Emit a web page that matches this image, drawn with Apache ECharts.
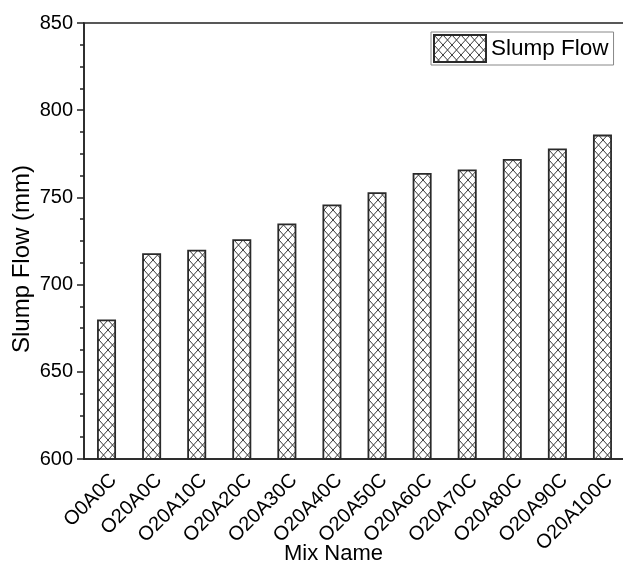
<!DOCTYPE html>
<html>
<head>
<meta charset="utf-8">
<script src="https://cdn.jsdelivr.net/npm/echarts@6/dist/echarts.min.js"></script>
<style>html,body{margin:0;padding:0;background:#fff}#c{width:623px;height:572px}</style>
</head>
<body>
<div id="c"></div>
<script>
var categories = ['O0A0C','O20A0C','O20A10C','O20A20C','O20A30C','O20A40C','O20A50C','O20A60C','O20A70C','O20A80C','O20A90C','O20A100C'];
var slumpFlow = [680, 718, 720, 726, 735, 746, 753, 764, 766, 772, 778, 786];
var yTicks = {min: 600, max: 850, interval: 50};

function makePattern() {
  var w = 9, h = 10;
  var cv = document.createElement('canvas');
  cv.width = w; cv.height = h;
  var ctx = cv.getContext('2d');
  ctx.fillStyle = '#fff';
  ctx.fillRect(0, 0, w, h);
  ctx.strokeStyle = '#3a3a3a';
  ctx.lineWidth = 1;
  ctx.beginPath();
  for (var k = -1; k <= 1; k++) {
    ctx.moveTo(k * w, 0); ctx.lineTo(k * w + w, h);
    ctx.moveTo(k * w + w, 0); ctx.lineTo(k * w, h);
  }
  ctx.stroke();
  return cv;
}
var pattern = {image: makePattern(), repeat: 'repeat'};

var chart = echarts.init(document.getElementById('c'));
var axisColor = '#222';
var font = 'Liberation Sans, Arial, sans-serif';
chart.setOption({
  animation: false,
  textStyle: {fontFamily: font},
  grid: {left: 84, top: 23, width: 541, height: 436, containLabel: false, outerBoundsMode: 'none',
    show: true, borderColor: axisColor, borderWidth: 1.5, backgroundColor: 'transparent'},
  legend: {
    left: 431, top: 32, padding: [2, 5, 2, 2],
    borderColor: '#888', borderWidth: 1,
    icon: 'rect',
    itemWidth: 52, itemHeight: 27, itemGap: 5,
    textStyle: {fontSize: 22.5, color: '#000', fontFamily: font},
    data: ['Slump Flow']
  },
  xAxis: [{
    type: 'category', data: categories, position: 'bottom',
    name: 'Mix Name', nameLocation: 'middle', nameGap: 84, nameMoveOverlap: false,
    nameTextStyle: {fontSize: 22, color: '#000', padding: [0, 42, 0, 0]},
    axisLine: {lineStyle: {color: axisColor, width: 1.5}},
    axisTick: {alignWithLabel: true, length: 7, lineStyle: {color: axisColor, width: 1.5}},
    axisLabel: {rotate: 45, fontSize: 20, color: '#000', margin: 11, interval: 0, verticalAlign: 'top', align: 'right'}
  }, {
    type: 'category', data: categories, position: 'bottom',
    axisLine: {show: false},
    axisTick: {length: 4, interval: 0, lineStyle: {color: axisColor, width: 1.5}},
    axisLabel: {show: false}
  }],
  yAxis: {
    type: 'value', min: yTicks.min, max: yTicks.max, interval: yTicks.interval,
    name: 'Slump Flow (mm)', nameLocation: 'middle', nameGap: 50, nameMoveOverlap: false,
    nameTextStyle: {fontSize: 24, color: '#000', padding: [0, 36, 0, 0]},
    axisLine: {show: true, lineStyle: {color: axisColor, width: 1.5}},
    axisTick: {show: true, length: 7, lineStyle: {color: axisColor, width: 1.5}},
    minorTick: {show: true, splitNumber: 4, length: 4, lineStyle: {color: axisColor, width: 1.5}},
    splitLine: {show: false},
    axisLabel: {fontSize: 20, color: '#000', margin: 11}
  },
  series: [{
    name: 'Slump Flow', type: 'bar', data: slumpFlow, barWidth: 19,
    itemStyle: {color: pattern, borderColor: '#2a2a2a', borderWidth: 1.8}
  }]
});
</script>
</body>
</html>
